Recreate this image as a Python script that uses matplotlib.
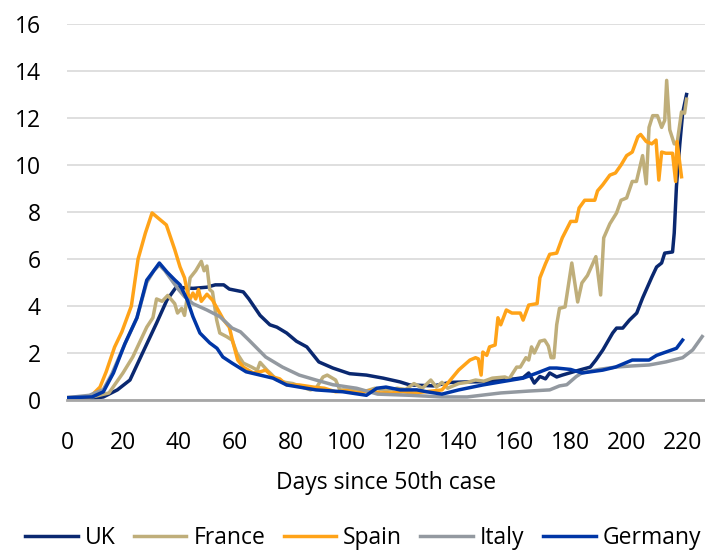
import numpy as np
import matplotlib
matplotlib.use("Agg")
import matplotlib.pyplot as plt

plt.rcParams['font.family'] = ['Open Sans', 'DejaVu Sans']

# days since 50th case / values
uk_days = [0, 8, 13, 18, 22.5, 27, 32, 35.7, 39, 45, 50, 53, 56, 58, 63, 65, 69, 72.5, 75, 78.5, 82, 85.7,
           90, 95, 101, 107, 113, 119, 122.5, 127, 131, 135, 137, 143, 150, 155, 160, 163, 165, 167, 169,
           171, 172.5, 175, 177, 183, 187, 189, 191.5, 195, 196.4, 198.6, 201, 203.6, 205.7, 209, 210.7,
           212.5, 213.6, 216.4, 217, 217.8, 219, 220, 221.4]
uk_vals = [0.05, 0.05, 0.13, 0.43, 0.85, 2.0, 3.27, 4.25, 4.8, 4.75, 4.8, 4.9, 4.9, 4.72, 4.6, 4.3, 3.6, 3.2,
           3.1, 2.85, 2.5, 2.26, 1.62, 1.36, 1.12, 1.06, 0.93, 0.77, 0.64, 0.62, 0.6, 0.7, 0.75, 0.77, 0.78,
           0.85, 0.9, 0.95, 1.15, 0.72, 1.0, 0.9, 1.15, 0.98, 1.06, 1.27, 1.4, 1.7, 2.13, 2.85, 3.06, 3.06,
           3.4, 3.7, 4.34, 5.23, 5.66, 5.83, 6.25, 6.3, 7.1, 9.1, 10.9, 12.2, 13.0]

france_days = [0, 8, 15, 20, 23.5, 28.5, 30.7, 32, 34, 36, 38.5, 39.5, 41, 42, 44, 46, 48, 49, 50, 51, 52,
               53.5, 54.6, 57, 59, 60.7, 63, 66, 68, 69, 71.5, 73, 75, 78, 80.7, 84, 87, 89, 91.5, 93, 96,
               97.5, 102, 106, 110, 114, 118, 121, 124, 127, 130, 132, 134, 136, 140, 143, 146, 149, 152,
               156.5, 158, 160.7, 162, 164, 165, 166, 167, 169, 170.7, 172, 173, 174, 175, 176, 178, 180.4,
               182.5, 184, 186, 189, 190.7, 191.8, 194, 196.4, 198, 200, 202, 203.5, 204.5, 205.7, 207, 208,
               209.3, 211, 212.5, 213.6, 214.3, 215.4, 217, 218, 219.6, 220.7, 221.4]
france_vals = [0.1, 0.1, 0.3, 1.15, 1.83, 3.1, 3.5, 4.3, 4.2, 4.45, 4.1, 3.7, 3.9, 3.6, 5.2, 5.5, 5.9, 5.5,
               5.7, 4.7, 4.6, 3.4, 2.85, 2.7, 2.55, 2.0, 1.57, 1.4, 1.27, 1.6, 1.27, 1.1, 0.85, 0.75, 0.7,
               0.55, 0.43, 0.5, 0.98, 1.06, 0.85, 0.43, 0.43, 0.35, 0.5, 0.4, 0.5, 0.45, 0.7, 0.5, 0.85,
               0.55, 0.75, 0.5, 0.7, 0.75, 0.85, 0.8, 0.93, 0.98, 0.9, 1.4, 1.4, 1.8, 1.7, 2.26, 2.0, 2.5,
               2.55, 2.3, 1.8, 1.8, 3.2, 3.9, 3.96, 5.83, 4.17, 4.98, 5.3, 6.1, 4.47, 6.9, 7.5, 7.96, 8.5,
               8.6, 9.3, 9.3, 9.8, 10.4, 9.2, 11.6, 12.1, 12.1, 11.6, 11.9, 13.6, 11.5, 10.9, 10.9, 12.26,
               12.2, 12.8]

spain_days = [0, 8, 11.8, 14, 17, 19.6, 23, 25.4, 28, 30.4, 33, 35.5, 38.5, 40.4, 42, 43, 44, 45, 46, 47,
              48, 50, 52, 54.6, 56, 58, 59, 61, 63, 66.5, 69, 71, 73.6, 76, 78.5, 83, 88, 92, 96, 100, 104,
              108, 112, 116, 120, 124, 128, 132, 134, 137, 140, 144, 146, 147, 148, 148.6, 150, 151, 153,
              154, 155, 157, 159, 162, 163, 165, 168, 169, 171, 172.5, 175, 177, 180, 182, 183, 185, 188.6,
              189.6, 191.4, 194, 196, 198, 200, 202, 204, 205, 207, 209, 210.5, 211.5, 212.5, 214, 216.4,
              217.5, 218, 219.6]
spain_vals = [0.1, 0.1, 0.55, 1.2, 2.25, 2.9, 4.0, 6.0, 7.1, 7.96, 7.7, 7.45, 6.4, 5.66, 5.2, 4.6, 4.3,
              4.55, 4.3, 4.7, 4.2, 4.5, 4.25, 3.7, 3.4, 3.1, 2.6, 1.7, 1.4, 1.15, 1.2, 1.27, 0.98, 0.9, 0.64,
              0.64, 0.55, 0.5, 0.35, 0.4, 0.3, 0.4, 0.3, 0.3, 0.35, 0.3, 0.35, 0.4, 0.43, 0.85, 1.28, 1.7,
              1.8, 1.75, 1.06, 2.04, 1.9, 2.26, 2.34, 3.5, 3.2, 3.83, 3.7, 3.7, 3.4, 4.04, 4.1, 5.2, 5.8,
              6.2, 6.25, 6.9, 7.6, 7.6, 8.17, 8.5, 8.5, 8.9, 9.15, 9.57, 9.66, 10.0, 10.4, 10.55, 11.2,
              11.3, 11.0, 10.9, 11.06, 9.36, 10.55, 10.5, 10.5, 9.3, 11.0, 9.5]

italy_days = [0, 8, 13, 16, 20, 25, 28.5, 31, 33, 35, 38, 40, 42, 45, 50, 54.6, 59, 62, 65, 71, 77, 83, 89,
              95, 103.5, 111, 122.5, 134, 143, 155, 165, 172.5, 176, 178.6, 182, 184, 190, 196, 202, 208,
              214, 220, 223.6, 227]
italy_vals = [0.1, 0.2, 0.45, 1.1, 2.2, 3.5, 5.0, 5.5, 5.75, 5.5, 5.0, 4.68, 4.4, 4.1, 3.83, 3.55, 3.06,
              2.9, 2.55, 1.83, 1.4, 1.06, 0.85, 0.65, 0.5, 0.25, 0.2, 0.13, 0.13, 0.3, 0.38, 0.43, 0.6,
              0.65, 1.0, 1.15, 1.3, 1.4, 1.45, 1.49, 1.62, 1.8, 2.13, 2.7]

germany_days = [0, 9, 13, 16.6, 20.7, 25, 28.5, 30.7, 33, 35.7, 38.6, 40.4, 43, 45, 47.5, 51, 53.6, 55.7,
                59, 64, 69, 73.6, 78.5, 83, 89, 98.6, 107, 110.7, 114, 119, 125, 128.6, 134, 140, 148.6,
                155, 163, 168, 172.5, 175, 180, 184, 191.4, 196, 202, 208, 210.7, 214, 217.8, 220]
germany_vals = [0.1, 0.13, 0.35, 1.15, 2.4, 3.5, 5.1, 5.45, 5.83, 5.45, 5.1, 4.9, 4.25, 3.55, 2.85, 2.43,
                2.2, 1.83, 1.57, 1.2, 1.06, 0.93, 0.64, 0.55, 0.43, 0.35, 0.2, 0.5, 0.55, 0.43, 0.43, 0.35,
                0.25, 0.43, 0.64, 0.77, 0.93, 1.15, 1.36, 1.36, 1.3, 1.15, 1.27, 1.4, 1.7, 1.7, 1.9, 2.04,
                2.2, 2.55]

series = [
    ("UK", uk_days, uk_vals, "#0a2870"),
    ("France", france_days, france_vals, "#bfae7a"),
    ("Spain", spain_days, spain_vals, "#ffa318"),
    ("Italy", italy_days, italy_vals, "#9399a0"),
    ("Germany", germany_days, germany_vals, "#0036a6"),
]

fig = plt.figure(figsize=(7.05, 5.5), dpi=100)
ax = fig.add_axes([67 / 705, 150 / 550, 638 / 705, 376 / 550])

for name, d, v, c in series:
    ax.plot(d, v, color=c, lw=2.5, label=name, solid_joinstyle='round')

ax.set_xlim(0, 228)
ax.set_ylim(0, 16)
ax.set_xticks(np.arange(0, 221, 20))
ax.set_yticks(np.arange(0, 17, 2))
ax.yaxis.grid(True, color='#d9d9d9', lw=1.2)
ax.set_axisbelow(True)
for s in ['top', 'right', 'left']:
    ax.spines[s].set_visible(False)
ax.spines['bottom'].set_color('#a6a6a6')
ax.spines['bottom'].set_linewidth(2)
ax.tick_params(axis='both', length=0, labelsize=16.5, colors='black')
ax.tick_params(axis='y', pad=19)
ax.tick_params(axis='x', pad=22)

fig.text(386 / 705, 1 - 483 / 550, "Days since 50th case", ha='center', va='center', fontsize=16.5)

fig.legend(loc='center', bbox_to_anchor=(363 / 705, 1 - 538 / 550), ncol=5, frameon=False,
           fontsize=16.5, handlelength=2.3, columnspacing=0.8, handletextpad=0.3)

fig.savefig("out.png", dpi=100)
